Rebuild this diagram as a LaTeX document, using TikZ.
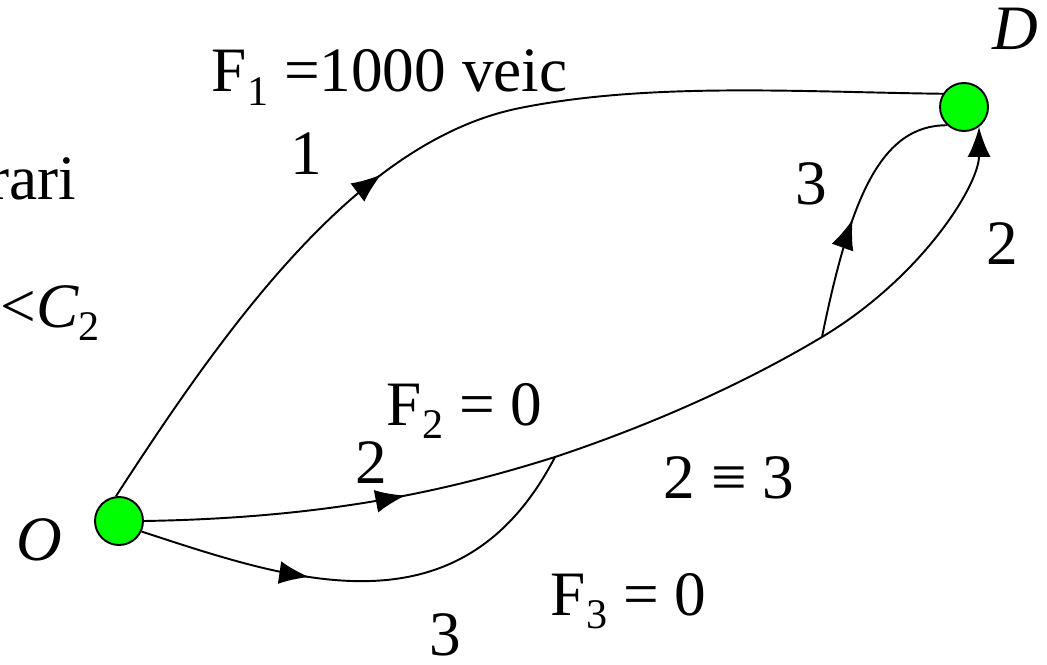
\documentclass[tikz,border=0pt]{standalone}
\usepackage{fontspec}
\setmainfont{Liberation Serif}
\usetikzlibrary{arrows.meta,decorations.markings}
\definecolor{nodeG}{RGB}{0,255,0}
\newcommand{\sbs}[1]{\raisebox{-0.22em}{\fontsize{24}{24}\selectfont #1}}

\begin{document}
\begin{tikzpicture}[x=0.02cm,y=-0.02cm,line width=1.1pt,>={Latex[length=6mm,width=4.6mm]},
  vertex/.style={circle,draw,fill=nodeG,minimum size=0.96cm,inner sep=0pt},
  lbl/.style={font=\fontsize{36}{42}\selectfont,inner sep=0pt},
  flow/.style={postaction={decorate},decoration={markings,mark=at position #1 with {\arrow{>}}}}]
\useasboundingbox (0,0) rectangle (1047,665);
\node[vertex] (O) at (119,521) {};
\node[vertex] (D) at (964,107) {};
\coordinate (m) at (555,457);
\coordinate (b) at (822,337);
% route 1
\draw[flow=0.42] (O.97) .. controls (230,320) and (360,140) .. (520,108) .. controls (650,82) and (800,92) .. (D.148);
% route 2
\draw[flow=0.63] (O.east) .. controls (330,518) and (450,490) .. (m);
\draw (m) .. controls (660,422) and (750,380) .. (b);
\draw[->] (b) .. controls (922,277) and (979,185) .. (D.-53);
% route 3
\draw[flow=0.37] (O.-25) .. controls (290,580) and (460,640) .. (m);
\draw[flow=0.46] (b) .. controls (850,200) and (880,125) .. (D.227);
% labels
\node[lbl,anchor=base west] (f1) at (211,92) {F\sbs{1} =1000 veic};
\node[lbl,anchor=base] (n1) at (306,175) {1};
\node[lbl,anchor=base] (n3a) at (811,205) {3};
\node[lbl,anchor=base] (n2a) at (1002,265) {2};
\node[lbl,anchor=base west] (f2) at (386,425) {F\sbs{2} = 0};
\node[lbl,anchor=base] (n2b) at (371,483) {2};
\node[lbl,anchor=base west] (eq) at (663,498) {2 ≡ 3};
\node[lbl,anchor=base west] (f3) at (550,615) {F\sbs{3} = 0};
\node[lbl,anchor=base] (n3b) at (445,655) {3};
\node[lbl,anchor=base] (o) at (39,560) {\textit{O}};
\node[lbl,anchor=base] (d) at (1015,50) {\textit{D}};
\node[lbl,anchor=base east] (t1) at (77,200) {rari};
\node[lbl,anchor=base east] (t2) at (101,327) {<\textit{C}\sbs{2}};
\end{tikzpicture}
\end{document}
